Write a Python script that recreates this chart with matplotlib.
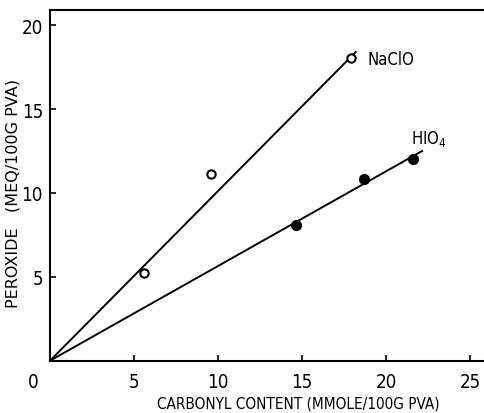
import matplotlib
matplotlib.use("Agg")
import numpy as np
import matplotlib.pyplot as plt
from matplotlib.transforms import ScaledTranslation

plt.rcParams['font.family'] = ['DejaVu Sans']
plt.rcParams['font.stretch'] = 'condensed'

# NaClO (open circles)
naclo_x = [5.6, 9.6, 17.9]
naclo_y = [5.25, 11.15, 18.05]
naclo_line_x = [0, 18.2]
naclo_line_y = [0, 18.4]

# HIO4 (filled circles)
hio4_x = [14.65, 18.7, 21.6]
hio4_y = [8.1, 10.85, 12.05]
hio4_line_x = [0, 22.15]
hio4_line_y = [0, 12.5]

xticks = [0, 5, 10, 15, 20, 25]
yticks = [5, 10, 15, 20]

fig = plt.figure(figsize=(4.84, 4.14), dpi=100)
ax = fig.add_axes([0.1033, 0.1263, 0.8955, 0.847])

ax.plot(naclo_line_x, naclo_line_y, color="black", lw=1.4)
ax.plot(hio4_line_x, hio4_line_y, color="black", lw=1.4)
ax.plot(naclo_x, naclo_y, ls="None", marker="o", ms=6, mfc="white", mec="black", mew=1.5)
ax.plot(hio4_x, hio4_y, ls="None", marker="o", ms=7, color="black")

ax.text(18.9, 18.0, "NaClO", fontsize=12, va="center", ha="left")
ax.text(21.5, 13.3, "HIO$_4$", fontsize=12, va="center", ha="left")

ax.set_xlim(0, 25.8)
ax.set_ylim(0, 20.9)
ax.set_xticks(xticks)
ax.set_yticks(yticks)
ax.tick_params(direction="in", length=4, width=1.2, labelsize=13.5)
ax.tick_params(axis="x", pad=8)
ax.tick_params(axis="y", pad=5)
ax.spines["right"].set_visible(False)
for s in ["left", "bottom", "top"]:
    ax.spines[s].set_linewidth(1.5)

# the "0" sits left of the corner
zero = ax.get_xticklabels()[0]
zero.set_transform(zero.get_transform() + ScaledTranslation(-17/100, 0, fig.dpi_scale_trans))

ax.set_xlabel("CARBONYL CONTENT (MMOLE/100G PVA)", fontsize=11)
ax.set_ylabel("PEROXIDE   (MEQ/100G PVA)", fontsize=11.5, fontstretch="normal")
ax.xaxis.set_label_coords(0.573, -0.1)
ax.yaxis.set_label_coords(-0.068, 0.481)

plt.savefig("out.png", dpi=100)
